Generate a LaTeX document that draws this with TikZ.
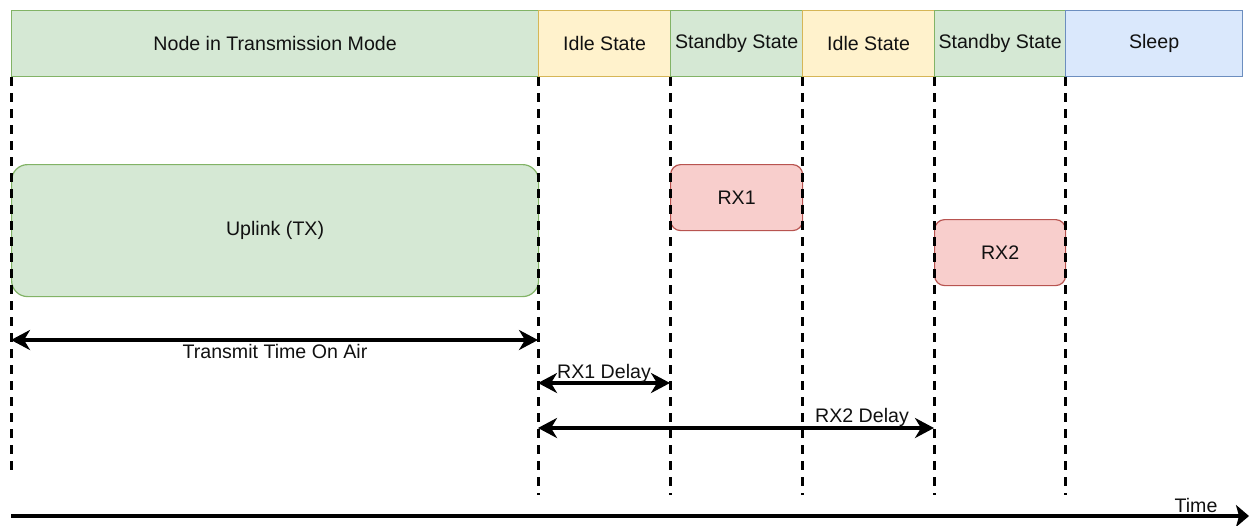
\documentclass[tikz,border=0pt]{standalone}
\usepackage{fontspec}
\setmainfont{Liberation Sans}
\usetikzlibrary{arrows.meta}
\definecolor{gfill}{HTML}{D5E8D4}
\definecolor{gline}{HTML}{82B366}
\definecolor{yfill}{HTML}{FFF2CC}
\definecolor{yline}{HTML}{D6B656}
\definecolor{bfill}{HTML}{DAE8FC}
\definecolor{bline}{HTML}{6C8EBF}
\definecolor{rfill}{HTML}{F8CECC}
\definecolor{rline}{HTML}{B85450}
\definecolor{ink}{HTML}{111111}
\tikzset{
  lbl/.style={font=\fontsize{19.6}{23}\selectfont, text=ink},
  seg/.style={lbl, draw, line width=1.2pt, minimum height=66pt, inner sep=0pt, anchor=north west},
  greenseg/.style={seg, fill=gfill, draw=gline},
  yellowseg/.style={seg, fill=yfill, draw=yline},
  blueseg/.style={seg, fill=bfill, draw=bline},
  rxbox/.style={lbl, draw=rline, fill=rfill, line width=1.2pt, rounded corners=10pt, minimum width=132pt, minimum height=66pt, inner sep=0pt, anchor=north west},
  guide/.style={line width=3pt, dash pattern=on 9pt off 7pt, black},
  span/.style={line width=3.6pt, {Stealth[length=19pt,width=20pt,inset=6pt]}-{Stealth[length=19pt,width=20pt,inset=6pt]}},
  timeline/.style={line width=4.5pt, -{Stealth[length=13pt,width=22pt,inset=3pt]}}
}
\begin{document}
\begin{tikzpicture}[x=1pt,y=-1pt]
\useasboundingbox (0,0) rectangle (1250,525);
% state bar along the top
\node[greenseg, minimum width=527pt] (tx) at (11,10) {Node in Transmission Mode};
\node[yellowseg, minimum width=132pt] (idle1) at (538,10) {Idle State};
\node[greenseg, minimum width=132pt] (stby1) at (670,10) {Standby State};
\node[yellowseg, minimum width=132pt] (idle2) at (802,10) {Idle State};
\node[greenseg, minimum width=131pt] (stby2) at (934,10) {Standby State};
\node[blueseg, minimum width=177pt] (sleep) at (1065,10) {Sleep};
% radio activity
\node[lbl, draw=gline, fill=gfill, line width=1.2pt, rounded corners=16pt, minimum width=527pt, minimum height=132pt, inner sep=0pt, anchor=north west] (uplink) at (11,164) {Uplink (TX)};
\node[rxbox] (rx1) at (670,164) {RX1};
\node[rxbox, minimum width=131pt] (rx2) at (934,219) {RX2};
% lower ends of the dashed guides
\coordinate (g0) at (11,474);
\coordinate (g1) at (538,495);
\coordinate (g2) at (670,495);
\coordinate (g3) at (802,495);
\coordinate (g4) at (934,495);
\coordinate (g5) at (1065,495);
\draw[guide] (tx.south west) -- (g0);
\draw[guide] (idle1.south west) -- (g1);
\draw[guide] (stby1.south west) -- (g2);
\draw[guide] (idle2.south west) -- (g3);
\draw[guide] (stby2.south west) -- (g4);
\draw[guide] (sleep.south west) -- (g5);
% timing spans
\coordinate (toa0) at (11,340);
\coordinate (toa1) at (538,340);
\coordinate (d1a) at (538,383);
\coordinate (d1b) at (670,383);
\coordinate (d2a) at (538,428);
\coordinate (d2b) at (934,428);
\draw[span] (toa0) -- (toa1);
\node[lbl] (toalbl) at (275,351) {Transmit Time On Air};
\draw[span] (d1a) -- (d1b);
\node[lbl] (d1lbl) at (604,373) {RX1 Delay};
\draw[span] (d2a) -- (d2b);
\node[lbl] (d2lbl) at (862,417) {RX2 Delay};
% time axis
\coordinate (t0) at (11,516);
\coordinate (t1) at (1249,516);
\draw[timeline] (t0) -- (t1);
\node[lbl] (timelbl) at (1196,505) {Time};
\end{tikzpicture}
\end{document}
